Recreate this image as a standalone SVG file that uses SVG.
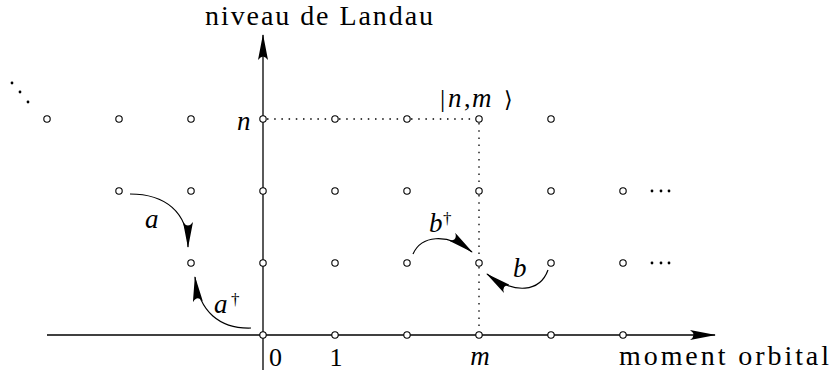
<svg xmlns="http://www.w3.org/2000/svg" width="831" height="383" viewBox="0 0 831 383">
<style>
.node circle{fill:#fff;stroke:#000;stroke-width:1.1}
.ax{stroke:#000;stroke-width:1.3;fill:none}
.dot{stroke:#000;stroke-width:1.3;fill:none;stroke-dasharray:1.5 5.7}
.arc{stroke:#000;stroke-width:1.2;fill:none}
.el{fill:#000}
.t{font-family:'Liberation Serif','Times New Roman',serif;fill:#000}
.lbl{font-size:28px}
.num{font-size:26px}
.it{font-style:italic;font-size:27px}
.sup{font-size:17px}
.ang{font-family:'DejaVu Serif',serif;font-size:22px;fill:#000}
</style>
<defs>
<marker id="ah" markerUnits="userSpaceOnUse" viewBox="0 0 26 10" refX="25" refY="5" markerWidth="26" markerHeight="10" orient="auto">
<path d="M26,5 L0,0 Q7,5 0,10 Z" fill="#000"/>
</marker>
</defs>
<g id="connectors">
<line class="ax" x1="47" y1="335" x2="715" y2="335" marker-end="url(#ah)"/>
<line class="ax" x1="263" y1="370" x2="263" y2="35" marker-end="url(#ah)"/>
<line class="dot" x1="267" y1="119" x2="476" y2="119"/>
<line class="dot" x1="479" y1="123" x2="479" y2="334"/>
<path class="arc" d="M130,194 C165,194 188,212 188,247" marker-end="url(#ah)"/>
<path class="arc" d="M251,328 C220,329 199,312 195,277" marker-end="url(#ah)"/>
<path class="arc" d="M413,254 C421,236 446,232 472,252" marker-end="url(#ah)"/>
<path class="arc" d="M548,270 C540,292 515,295 487,274" marker-end="url(#ah)"/>
</g>
<g id="nodes">
<g id="r3-0" class="node"><circle cx="47" cy="119" r="3.2"/></g>
<g id="r3-1" class="node"><circle cx="119" cy="119" r="3.2"/></g>
<g id="r3-2" class="node"><circle cx="191" cy="119" r="3.2"/></g>
<g id="r3-3" class="node"><circle cx="263" cy="119" r="3.2"/></g>
<g id="r3-4" class="node"><circle cx="335" cy="119" r="3.2"/></g>
<g id="r3-5" class="node"><circle cx="407" cy="119" r="3.2"/></g>
<g id="r3-6" class="node"><circle cx="479" cy="119" r="3.2"/></g>
<g id="r3-7" class="node"><circle cx="551" cy="119" r="3.2"/></g>
<g id="r2-1" class="node"><circle cx="119" cy="191" r="3.2"/></g>
<g id="r2-2" class="node"><circle cx="191" cy="191" r="3.2"/></g>
<g id="r2-3" class="node"><circle cx="263" cy="191" r="3.2"/></g>
<g id="r2-4" class="node"><circle cx="335" cy="191" r="3.2"/></g>
<g id="r2-5" class="node"><circle cx="407" cy="191" r="3.2"/></g>
<g id="r2-6" class="node"><circle cx="479" cy="191" r="3.2"/></g>
<g id="r2-7" class="node"><circle cx="551" cy="191" r="3.2"/></g>
<g id="r2-8" class="node"><circle cx="623" cy="191" r="3.2"/></g>
<g id="r1-2" class="node"><circle cx="191" cy="263" r="3.2"/></g>
<g id="r1-3" class="node"><circle cx="263" cy="263" r="3.2"/></g>
<g id="r1-4" class="node"><circle cx="335" cy="263" r="3.2"/></g>
<g id="r1-5" class="node"><circle cx="407" cy="263" r="3.2"/></g>
<g id="r1-6" class="node"><circle cx="479" cy="263" r="3.2"/></g>
<g id="r1-7" class="node"><circle cx="551" cy="263" r="3.2"/></g>
<g id="r1-8" class="node"><circle cx="623" cy="263" r="3.2"/></g>
<g id="r0-3" class="node"><circle cx="263" cy="335" r="3.2"/></g>
<g id="r0-4" class="node"><circle cx="335" cy="335" r="3.2"/></g>
<g id="r0-5" class="node"><circle cx="407" cy="335" r="3.2"/></g>
<g id="r0-6" class="node"><circle cx="479" cy="335" r="3.2"/></g>
<g id="r0-7" class="node"><circle cx="551" cy="335" r="3.2"/></g>
<g id="r0-8" class="node"><circle cx="623" cy="335" r="3.2"/></g>
</g>
<g id="ellipses">
<circle class="el" cx="12" cy="83" r="1.4"/>
<circle class="el" cx="20" cy="92" r="1.4"/>
<circle class="el" cx="28" cy="102" r="1.4"/>
<circle class="el" cx="652" cy="191" r="1.4"/>
<circle class="el" cx="661" cy="191" r="1.4"/>
<circle class="el" cx="669" cy="191" r="1.4"/>
<circle class="el" cx="652" cy="263" r="1.4"/>
<circle class="el" cx="661" cy="263" r="1.4"/>
<circle class="el" cx="669" cy="263" r="1.4"/>
</g>
<g id="labels">
<text class="t lbl" x="205" y="25" textLength="228" lengthAdjust="spacing">niveau de Landau</text>
<text class="t lbl" x="619" y="365" textLength="210" lengthAdjust="spacing">moment orbital</text>
<text class="t num" x="269" y="366">0</text>
<text class="t num" x="336" y="366" text-anchor="middle">1</text>
<text class="t it" x="480" y="365" text-anchor="middle">m</text>
<text class="t it" x="237" y="130">n</text>
<text class="t num" x="440" y="107">|</text>
<text class="t it" x="448" y="107">n</text>
<text class="t num" x="464" y="107">,</text>
<text class="t it" x="472" y="107">m</text>
<text class="ang" x="504" y="107">⟩</text>
<text class="t it" x="145" y="228">a</text>
<text class="t it" x="214" y="313">a</text>
<text class="t sup" x="231" y="305">†</text>
<text class="t it" x="429" y="232">b</text>
<text class="t sup" x="443" y="224">†</text>
<text class="t it" x="513" y="277">b</text>
</g>
</svg>
